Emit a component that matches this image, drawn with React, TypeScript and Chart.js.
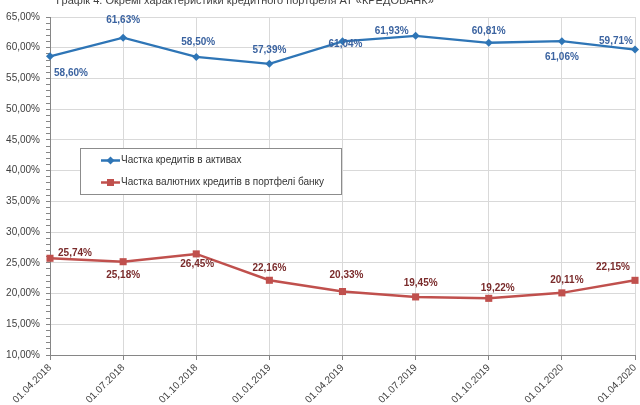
import React, { useEffect, useRef } from 'react';
import { Chart, registerables } from 'chart.js';

Chart.register(...registerables);

const title = 'Графік 4. Окремі характеристики кредитного портфеля АТ «КРЕДОБАНК»';
const categories = ['01.04.2018', '01.07.2018', '01.10.2018', '01.01.2019', '01.04.2019', '01.07.2019', '01.10.2019', '01.01.2020', '01.04.2020'];
const loansInAssets = [58.6, 61.63, 58.5, 57.39, 61.04, 61.93, 60.81, 61.06, 59.71];
const fxLoansShare = [25.74, 25.18, 26.45, 22.16, 20.33, 19.45, 19.22, 20.11, 22.15];
const seriesNames = ['Частка кредитів в активах', 'Частка валютних кредитів в портфелі банку'];
const yMin = 10;
const yMax = 65;
const yMajorStep = 5;

// label offsets (styling only) relative to each point
const blueLabelOffsets = [[21, 17], [0, -17], [2, -15], [0, -14], [3, 3], [-24, -5], [0, -11], [0, 16], [-19, -8]];
const redLabelOffsets = [[25, -5], [0, 14], [1, 10], [0, -12], [4, -16], [5, -14], [9, -10], [5, -13], [-22, -13]];

const FONT = '"Liberation Sans", Arial, sans-serif';
const BLUE = '#2e75b6';
const RED = '#c0504d';
const BLUE_TXT = '#3b63a0';
const RED_TXT = '#7a2b2b';

const fmt = (v: number) => v.toFixed(2).replace('.', ',') + '%';

const overlayPlugin = {
  id: 'overlay',
  afterDatasetsDraw(chart: any) {
    const ctx = chart.ctx;
    ctx.save();
    ctx.font = 'bold 10px ' + FONT;
    ctx.textAlign = 'center';
    ctx.textBaseline = 'middle';
    const offsets = [blueLabelOffsets, redLabelOffsets];
    const colors = [BLUE_TXT, RED_TXT];
    chart.data.datasets.forEach((ds: any, di: number) => {
      const meta = chart.getDatasetMeta(di);
      ctx.fillStyle = colors[di];
      meta.data.forEach((pt: any, i: number) => {
        const [dx, dy] = offsets[di][i];
        ctx.fillText(fmt(ds.data[i]), pt.x + dx, pt.y + dy);
      });
    });
    ctx.font = '11px ' + FONT;
    ctx.fillStyle = '#404040';
    ctx.textBaseline = 'alphabetic';
    ctx.fillText(title, 245, 4);
    const bx = 80.5, by = 148.5, bw = 261, bh = 46;
    ctx.fillStyle = '#ffffff';
    ctx.fillRect(bx, by, bw, bh);
    ctx.strokeStyle = '#8c8c8c';
    ctx.lineWidth = 1;
    ctx.strokeRect(bx, by, bw, bh);
    const items = [
      { y: 160.5, color: BLUE, shape: 'diamond' },
      { y: 182.5, color: RED, shape: 'square' },
    ];
    items.forEach((it, i) => {
      ctx.strokeStyle = it.color;
      ctx.lineWidth = 2.5;
      ctx.beginPath();
      ctx.moveTo(101, it.y);
      ctx.lineTo(120, it.y);
      ctx.stroke();
      ctx.fillStyle = it.color;
      if (it.shape === 'diamond') {
        ctx.beginPath();
        ctx.moveTo(110.5, it.y - 4);
        ctx.lineTo(114.5, it.y);
        ctx.lineTo(110.5, it.y + 4);
        ctx.lineTo(106.5, it.y);
        ctx.closePath();
        ctx.fill();
      } else {
        ctx.fillRect(107, it.y - 3.5, 7, 7);
      }
      ctx.fillStyle = '#333333';
      ctx.font = '10px ' + FONT;
      ctx.textAlign = 'left';
      ctx.textBaseline = 'middle';
      ctx.fillText(seriesNames[i], 121, it.y);
    });
    ctx.restore();
  },
};

export default function App() {
  const ref = useRef<HTMLCanvasElement | null>(null);
  useEffect(() => {
    if (!ref.current) return;
    const chart = new Chart(ref.current, {
      type: 'line',
      data: {
        labels: categories,
        datasets: [
          {
            label: seriesNames[0],
            data: loansInAssets,
            borderColor: BLUE,
            backgroundColor: BLUE,
            borderWidth: 2.25,
            pointStyle: 'rectRot',
            pointRadius: 4,
            pointBorderWidth: 0,
            tension: 0,
          },
          {
            label: seriesNames[1],
            data: fxLoansShare,
            borderColor: RED,
            backgroundColor: RED,
            borderWidth: 2.5,
            pointStyle: 'rect',
            pointRadius: 5,
            pointBorderWidth: 0,
            tension: 0,
          },
        ],
      },
      options: {
        animation: false,
        responsive: false,
        maintainAspectRatio: false,
        layout: { padding: { top: 17, right: 4, left: 0, bottom: 0 } },
        plugins: { legend: { display: false }, tooltip: { enabled: false }, title: { display: false } },
        scales: {
          x: {
            offset: false,
            afterFit: (s: any) => { s.height = 50; s.paddingLeft = 0; s.paddingRight = 0; },
            grid: { color: '#d9d9d9', tickColor: '#868686', tickLength: 5, offset: false },
            border: { color: '#868686' },
            ticks: {
              minRotation: 45,
              maxRotation: 45,
              autoSkip: false,
              padding: 2,
              color: '#404040',
              font: { family: FONT, size: 10 },
            },
          },
          y: {
            min: yMin,
            max: yMax,
            afterFit: (s: any) => { s.width = 50; s.paddingTop = 0; s.paddingBottom = 0; },
            grid: {
              color: (c: any) => (c.tick && Math.round(c.tick.value) % yMajorStep === 0 ? '#d9d9d9' : 'rgba(0,0,0,0)'),
              tickColor: '#868686',
              tickLength: 4,
            },
            border: { color: '#868686' },
            ticks: {
              stepSize: 1,
              maxTicksLimit: 100,
              autoSkip: false,
              padding: 6,
              color: '#404040',
              font: { family: FONT, size: 10 },
              callback: (v: any) => (Math.round(v) % yMajorStep === 0 ? fmt(Number(v)) : ''),
            },
          },
        },
      },
      plugins: [overlayPlugin],
    });
    return () => chart.destroy();
  }, []);
  return (
    <div style={{ position: 'absolute', left: 0, top: 0, width: 640, height: 405, background: '#fff' }}>
      <canvas ref={ref} width={640} height={405} style={{ width: 640, height: 405, display: 'block' }} />
    </div>
  );
}
